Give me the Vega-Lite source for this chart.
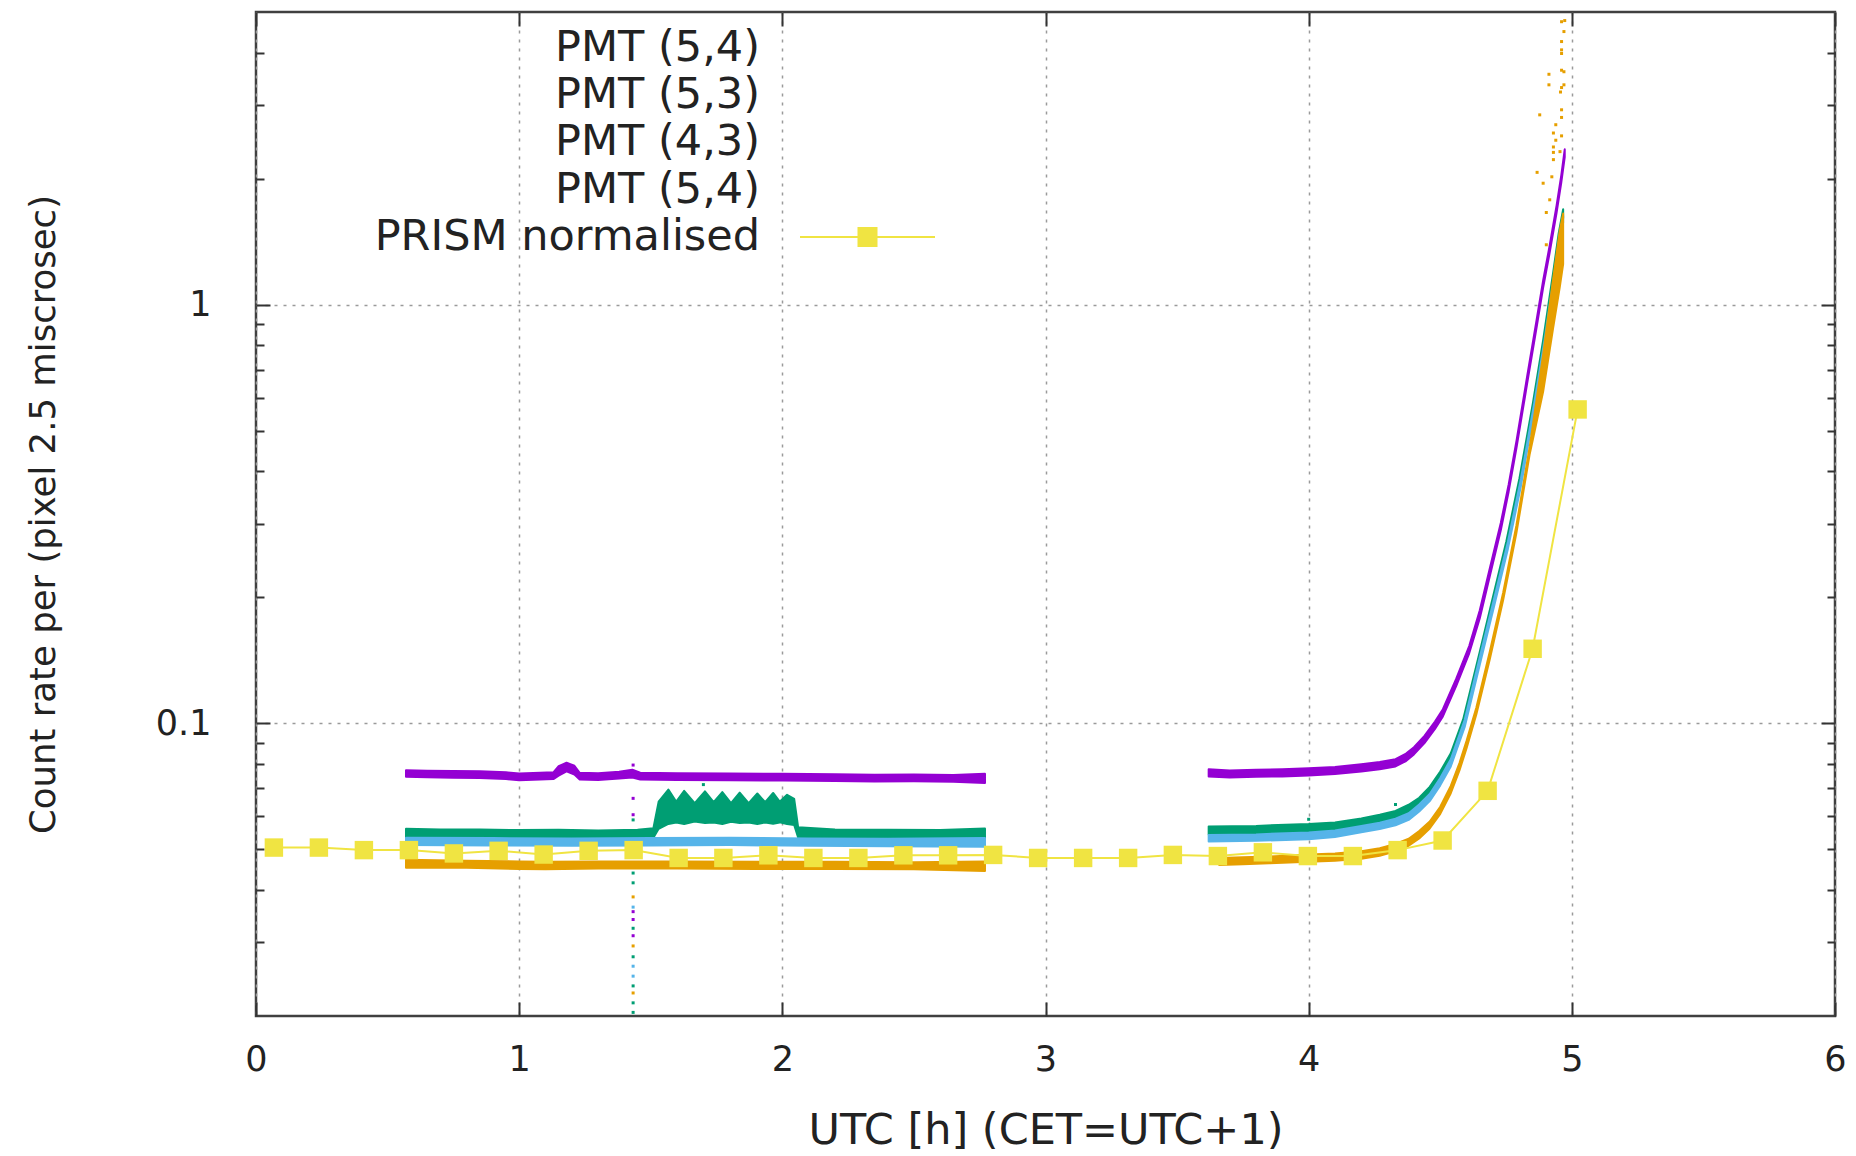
{
  "$schema": "https://vega.github.io/schema/vega-lite/v6.json",
  "width": 1579,
  "height": 1004,
  "autosize": {"type": "none"},
  "padding": {"left": 256, "top": 12, "right": 21, "bottom": 140},
  "background": "white",
  "config": {
    "view": {"stroke": "#404040", "strokeWidth": 2.5},
    "font": "DejaVu Sans",
    "axis": {
      "labelFont": "DejaVu Sans",
      "titleFont": "DejaVu Sans",
      "labelColor": "#222222",
      "titleColor": "#222222",
      "titleFontWeight": "normal",
      "tickColor": "#333333",
      "tickWidth": 2,
      "domain": false,
      "labelFlush": false,
      "labelOverlap": false,
      "labelBound": false,
      "gridColor": "#9a9a9a",
      "gridDash": [3, 6],
      "gridWidth": 1.5
    }
  },
  "datasets": {
    "pmt": [
      {"s": "p54a", "g": 1, "t": 0.57, "lo": 0.0745, "hi": 0.0773},
      {"s": "p54a", "g": 1, "t": 0.65, "lo": 0.0743, "hi": 0.0771},
      {"s": "p54a", "g": 1, "t": 0.75, "lo": 0.0741, "hi": 0.0769},
      {"s": "p54a", "g": 1, "t": 0.85, "lo": 0.0740, "hi": 0.0768},
      {"s": "p54a", "g": 1, "t": 0.95, "lo": 0.0736, "hi": 0.0764},
      {"s": "p54a", "g": 1, "t": 1.00, "lo": 0.0731, "hi": 0.0759},
      {"s": "p54a", "g": 1, "t": 1.08, "lo": 0.0734, "hi": 0.0762},
      {"s": "p54a", "g": 1, "t": 1.13, "lo": 0.0736, "hi": 0.0764},
      {"s": "p54a", "g": 1, "t": 1.15, "lo": 0.0750, "hi": 0.0790},
      {"s": "p54a", "g": 1, "t": 1.18, "lo": 0.0768, "hi": 0.0805},
      {"s": "p54a", "g": 1, "t": 1.21, "lo": 0.0755, "hi": 0.0792},
      {"s": "p54a", "g": 1, "t": 1.23, "lo": 0.0734, "hi": 0.0762},
      {"s": "p54a", "g": 1, "t": 1.30, "lo": 0.0732, "hi": 0.0760},
      {"s": "p54a", "g": 1, "t": 1.38, "lo": 0.0738, "hi": 0.0766},
      {"s": "p54a", "g": 1, "t": 1.43, "lo": 0.0742, "hi": 0.0775},
      {"s": "p54a", "g": 1, "t": 1.46, "lo": 0.0734, "hi": 0.0762},
      {"s": "p54a", "g": 1, "t": 1.60, "lo": 0.0732, "hi": 0.0760},
      {"s": "p54a", "g": 1, "t": 1.80, "lo": 0.0731, "hi": 0.0759},
      {"s": "p54a", "g": 1, "t": 2.00, "lo": 0.0730, "hi": 0.0758},
      {"s": "p54a", "g": 1, "t": 2.20, "lo": 0.0728, "hi": 0.0756},
      {"s": "p54a", "g": 1, "t": 2.35, "lo": 0.0726, "hi": 0.0754},
      {"s": "p54a", "g": 1, "t": 2.50, "lo": 0.0727, "hi": 0.0755},
      {"s": "p54a", "g": 1, "t": 2.65, "lo": 0.0725, "hi": 0.0753},
      {"s": "p54a", "g": 1, "t": 2.77, "lo": 0.0720, "hi": 0.0758},
      {"s": "p54a", "g": 2, "t": 3.62, "lo": 0.0747, "hi": 0.0777},
      {"s": "p54a", "g": 2, "t": 3.70, "lo": 0.0742, "hi": 0.0772},
      {"s": "p54a", "g": 2, "t": 3.80, "lo": 0.0745, "hi": 0.0775},
      {"s": "p54a", "g": 2, "t": 3.90, "lo": 0.0747, "hi": 0.0777},
      {"s": "p54a", "g": 2, "t": 4.00, "lo": 0.0751, "hi": 0.0781},
      {"s": "p54a", "g": 2, "t": 4.10, "lo": 0.0757, "hi": 0.0787},
      {"s": "p54a", "g": 2, "t": 4.20, "lo": 0.0767, "hi": 0.0799},
      {"s": "p54a", "g": 2, "t": 4.27, "lo": 0.0777, "hi": 0.0809},
      {"s": "p54a", "g": 2, "t": 4.33, "lo": 0.0789, "hi": 0.0821},
      {"s": "p54a", "g": 2, "t": 4.37, "lo": 0.0813, "hi": 0.0847},
      {"s": "p54a", "g": 2, "t": 4.40, "lo": 0.0843, "hi": 0.0877},
      {"s": "p54a", "g": 2, "t": 4.44, "lo": 0.0897, "hi": 0.0933},
      {"s": "p54a", "g": 2, "t": 4.48, "lo": 0.0970, "hi": 0.1010},
      {"s": "p54a", "g": 2, "t": 4.51, "lo": 0.1039, "hi": 0.1081},
      {"s": "p54a", "g": 2, "t": 4.56, "lo": 0.1225, "hi": 0.1275},
      {"s": "p54a", "g": 2, "t": 4.61, "lo": 0.147, "hi": 0.153},
      {"s": "p54a", "g": 2, "t": 4.65, "lo": 0.178, "hi": 0.186},
      {"s": "p54a", "g": 2, "t": 4.69, "lo": 0.227, "hi": 0.237},
      {"s": "p54a", "g": 2, "t": 4.73, "lo": 0.289, "hi": 0.301},
      {"s": "p54a", "g": 2, "t": 4.76, "lo": 0.358, "hi": 0.372},
      {"s": "p54a", "g": 2, "t": 4.79, "lo": 0.456, "hi": 0.474},
      {"s": "p54a", "g": 2, "t": 4.83, "lo": 0.647, "hi": 0.673},
      {"s": "p54a", "g": 2, "t": 4.866, "lo": 0.882, "hi": 0.918},
      {"s": "p54a", "g": 2, "t": 4.891, "lo": 1.098, "hi": 1.142},
      {"s": "p54a", "g": 2, "t": 4.916, "lo": 1.333, "hi": 1.387},
      {"s": "p54a", "g": 2, "t": 4.942, "lo": 1.656, "hi": 1.724},
      {"s": "p54a", "g": 2, "t": 4.960, "lo": 1.96, "hi": 2.04},
      {"s": "p54a", "g": 2, "t": 4.973, "lo": 2.25, "hi": 2.35},

      {"s": "p53", "g": 1, "t": 0.57, "lo": 0.0533, "hi": 0.0560},
      {"s": "p53", "g": 1, "t": 0.70, "lo": 0.0532, "hi": 0.0558},
      {"s": "p53", "g": 1, "t": 0.85, "lo": 0.0531, "hi": 0.0558},
      {"s": "p53", "g": 1, "t": 1.00, "lo": 0.0530, "hi": 0.0556},
      {"s": "p53", "g": 1, "t": 1.15, "lo": 0.0530, "hi": 0.0557},
      {"s": "p53", "g": 1, "t": 1.30, "lo": 0.0529, "hi": 0.0555},
      {"s": "p53", "g": 1, "t": 1.45, "lo": 0.0530, "hi": 0.0557},
      {"s": "p53", "g": 1, "t": 1.51, "lo": 0.0533, "hi": 0.0562},
      {"s": "p53", "g": 1, "t": 1.53, "lo": 0.0560, "hi": 0.0650},
      {"s": "p53", "g": 1, "t": 1.567, "lo": 0.0575, "hi": 0.0695},
      {"s": "p53", "g": 1, "t": 1.597, "lo": 0.0580, "hi": 0.0650},
      {"s": "p53", "g": 1, "t": 1.627, "lo": 0.0575, "hi": 0.0690},
      {"s": "p53", "g": 1, "t": 1.667, "lo": 0.0583, "hi": 0.0645},
      {"s": "p53", "g": 1, "t": 1.706, "lo": 0.0578, "hi": 0.0688},
      {"s": "p53", "g": 1, "t": 1.739, "lo": 0.0580, "hi": 0.0648},
      {"s": "p53", "g": 1, "t": 1.772, "lo": 0.0575, "hi": 0.0685},
      {"s": "p53", "g": 1, "t": 1.805, "lo": 0.0582, "hi": 0.0645},
      {"s": "p53", "g": 1, "t": 1.838, "lo": 0.0578, "hi": 0.0683},
      {"s": "p53", "g": 1, "t": 1.872, "lo": 0.0580, "hi": 0.0645},
      {"s": "p53", "g": 1, "t": 1.905, "lo": 0.0575, "hi": 0.0680},
      {"s": "p53", "g": 1, "t": 1.935, "lo": 0.0580, "hi": 0.0648},
      {"s": "p53", "g": 1, "t": 1.965, "lo": 0.0576, "hi": 0.0682},
      {"s": "p53", "g": 1, "t": 1.99, "lo": 0.0580, "hi": 0.0650},
      {"s": "p53", "g": 1, "t": 2.018, "lo": 0.0575, "hi": 0.0675},
      {"s": "p53", "g": 1, "t": 2.045, "lo": 0.0572, "hi": 0.0660},
      {"s": "p53", "g": 1, "t": 2.06, "lo": 0.0534, "hi": 0.0565},
      {"s": "p53", "g": 1, "t": 2.20, "lo": 0.0532, "hi": 0.0558},
      {"s": "p53", "g": 1, "t": 2.40, "lo": 0.0531, "hi": 0.0557},
      {"s": "p53", "g": 1, "t": 2.60, "lo": 0.0530, "hi": 0.0556},
      {"s": "p53", "g": 1, "t": 2.77, "lo": 0.0527, "hi": 0.0561},
      {"s": "p53", "g": 2, "t": 3.62, "lo": 0.0543, "hi": 0.0567},
      {"s": "p53", "g": 2, "t": 3.80, "lo": 0.0545, "hi": 0.0569},
      {"s": "p53", "g": 2, "t": 4.00, "lo": 0.0551, "hi": 0.0575},
      {"s": "p53", "g": 2, "t": 4.10, "lo": 0.0556, "hi": 0.0580},
      {"s": "p53", "g": 2, "t": 4.20, "lo": 0.0567, "hi": 0.0593},
      {"s": "p53", "g": 2, "t": 4.27, "lo": 0.0579, "hi": 0.0605},
      {"s": "p53", "g": 2, "t": 4.33, "lo": 0.0592, "hi": 0.0618},
      {"s": "p53", "g": 2, "t": 4.38, "lo": 0.0612, "hi": 0.0639},
      {"s": "p53", "g": 2, "t": 4.42, "lo": 0.0636, "hi": 0.0664},
      {"s": "p53", "g": 2, "t": 4.46, "lo": 0.0675, "hi": 0.0705},
      {"s": "p53", "g": 2, "t": 4.50, "lo": 0.0734, "hi": 0.0767},
      {"s": "p53", "g": 2, "t": 4.54, "lo": 0.0812, "hi": 0.0848},
      {"s": "p53", "g": 2, "t": 4.587, "lo": 0.0978, "hi": 0.1022},
      {"s": "p53", "g": 2, "t": 4.65, "lo": 0.142, "hi": 0.148},
      {"s": "p53", "g": 2, "t": 4.70, "lo": 0.192, "hi": 0.200},
      {"s": "p53", "g": 2, "t": 4.751, "lo": 0.260, "hi": 0.272},
      {"s": "p53", "g": 2, "t": 4.801, "lo": 0.369, "hi": 0.385},
      {"s": "p53", "g": 2, "t": 4.852, "lo": 0.558, "hi": 0.582},
      {"s": "p53", "g": 2, "t": 4.891, "lo": 0.789, "hi": 0.823},
      {"s": "p53", "g": 2, "t": 4.929, "lo": 1.142, "hi": 1.192},
      {"s": "p53", "g": 2, "t": 4.950, "lo": 1.42, "hi": 1.48},
      {"s": "p53", "g": 2, "t": 4.967, "lo": 1.61, "hi": 1.69},

      {"s": "p43", "g": 1, "t": 0.57, "lo": 0.0512, "hi": 0.0533},
      {"s": "p43", "g": 1, "t": 0.90, "lo": 0.0511, "hi": 0.0532},
      {"s": "p43", "g": 1, "t": 1.20, "lo": 0.0510, "hi": 0.0531},
      {"s": "p43", "g": 1, "t": 1.50, "lo": 0.0511, "hi": 0.0532},
      {"s": "p43", "g": 1, "t": 1.80, "lo": 0.0512, "hi": 0.0533},
      {"s": "p43", "g": 1, "t": 2.10, "lo": 0.0510, "hi": 0.0531},
      {"s": "p43", "g": 1, "t": 2.40, "lo": 0.0509, "hi": 0.0530},
      {"s": "p43", "g": 1, "t": 2.77, "lo": 0.0507, "hi": 0.0532},
      {"s": "p43", "g": 2, "t": 3.62, "lo": 0.0522, "hi": 0.0541},
      {"s": "p43", "g": 2, "t": 3.80, "lo": 0.0524, "hi": 0.0543},
      {"s": "p43", "g": 2, "t": 4.00, "lo": 0.0529, "hi": 0.0549},
      {"s": "p43", "g": 2, "t": 4.10, "lo": 0.0535, "hi": 0.0555},
      {"s": "p43", "g": 2, "t": 4.20, "lo": 0.0549, "hi": 0.0569},
      {"s": "p43", "g": 2, "t": 4.27, "lo": 0.0559, "hi": 0.0579},
      {"s": "p43", "g": 2, "t": 4.33, "lo": 0.0571, "hi": 0.0592},
      {"s": "p43", "g": 2, "t": 4.38, "lo": 0.0588, "hi": 0.0610},
      {"s": "p43", "g": 2, "t": 4.42, "lo": 0.0616, "hi": 0.0640},
      {"s": "p43", "g": 2, "t": 4.46, "lo": 0.0652, "hi": 0.0678},
      {"s": "p43", "g": 2, "t": 4.50, "lo": 0.0711, "hi": 0.0740},
      {"s": "p43", "g": 2, "t": 4.54, "lo": 0.0789, "hi": 0.0821},
      {"s": "p43", "g": 2, "t": 4.593, "lo": 0.098, "hi": 0.102},
      {"s": "p43", "g": 2, "t": 4.655, "lo": 0.142, "hi": 0.148},
      {"s": "p43", "g": 2, "t": 4.706, "lo": 0.192, "hi": 0.200},
      {"s": "p43", "g": 2, "t": 4.757, "lo": 0.261, "hi": 0.271},
      {"s": "p43", "g": 2, "t": 4.807, "lo": 0.370, "hi": 0.385},
      {"s": "p43", "g": 2, "t": 4.857, "lo": 0.559, "hi": 0.581},
      {"s": "p43", "g": 2, "t": 4.896, "lo": 0.790, "hi": 0.822},
      {"s": "p43", "g": 2, "t": 4.934, "lo": 1.144, "hi": 1.190},
      {"s": "p43", "g": 2, "t": 4.955, "lo": 1.42, "hi": 1.48},
      {"s": "p43", "g": 2, "t": 4.967, "lo": 1.57, "hi": 1.63},

      {"s": "p54b", "g": 1, "t": 0.57, "lo": 0.0452, "hi": 0.0472},
      {"s": "p54b", "g": 1, "t": 0.80, "lo": 0.0452, "hi": 0.0470},
      {"s": "p54b", "g": 1, "t": 1.00, "lo": 0.0449, "hi": 0.0468},
      {"s": "p54b", "g": 1, "t": 1.10, "lo": 0.0448, "hi": 0.0467},
      {"s": "p54b", "g": 1, "t": 1.30, "lo": 0.0450, "hi": 0.0468},
      {"s": "p54b", "g": 1, "t": 1.60, "lo": 0.0450, "hi": 0.0468},
      {"s": "p54b", "g": 1, "t": 1.90, "lo": 0.0449, "hi": 0.0467},
      {"s": "p54b", "g": 1, "t": 2.20, "lo": 0.0449, "hi": 0.0467},
      {"s": "p54b", "g": 1, "t": 2.50, "lo": 0.0448, "hi": 0.0466},
      {"s": "p54b", "g": 1, "t": 2.77, "lo": 0.0444, "hi": 0.0468},
      {"s": "p54b", "g": 2, "t": 3.66, "lo": 0.0459, "hi": 0.0477},
      {"s": "p54b", "g": 2, "t": 3.75, "lo": 0.0461, "hi": 0.0479},
      {"s": "p54b", "g": 2, "t": 3.85, "lo": 0.0463, "hi": 0.0481},
      {"s": "p54b", "g": 2, "t": 4.00, "lo": 0.0467, "hi": 0.0486},
      {"s": "p54b", "g": 2, "t": 4.10, "lo": 0.0470, "hi": 0.0489},
      {"s": "p54b", "g": 2, "t": 4.20, "lo": 0.0475, "hi": 0.0495},
      {"s": "p54b", "g": 2, "t": 4.27, "lo": 0.0483, "hi": 0.0503},
      {"s": "p54b", "g": 2, "t": 4.33, "lo": 0.0495, "hi": 0.0515},
      {"s": "p54b", "g": 2, "t": 4.38, "lo": 0.0510, "hi": 0.0530},
      {"s": "p54b", "g": 2, "t": 4.42, "lo": 0.0531, "hi": 0.0553},
      {"s": "p54b", "g": 2, "t": 4.46, "lo": 0.0561, "hi": 0.0583},
      {"s": "p54b", "g": 2, "t": 4.50, "lo": 0.0608, "hi": 0.0632},
      {"s": "p54b", "g": 2, "t": 4.54, "lo": 0.0681, "hi": 0.0709},
      {"s": "p54b", "g": 2, "t": 4.573, "lo": 0.0772, "hi": 0.0804},
      {"s": "p54b", "g": 2, "t": 4.60, "lo": 0.0872, "hi": 0.0908},
      {"s": "p54b", "g": 2, "t": 4.637, "lo": 0.105, "hi": 0.109},
      {"s": "p54b", "g": 2, "t": 4.688, "lo": 0.142, "hi": 0.148},
      {"s": "p54b", "g": 2, "t": 4.739, "lo": 0.197, "hi": 0.205},
      {"s": "p54b", "g": 2, "t": 4.789, "lo": 0.284, "hi": 0.296},
      {"s": "p54b", "g": 2, "t": 4.840, "lo": 0.440, "hi": 0.458},
      {"s": "p54b", "g": 2, "t": 4.891, "lo": 0.62, "hi": 0.76},
      {"s": "p54b", "g": 2, "t": 4.929, "lo": 0.88, "hi": 1.15},
      {"s": "p54b", "g": 2, "t": 4.954, "lo": 1.10, "hi": 1.50},
      {"s": "p54b", "g": 2, "t": 4.967, "lo": 1.25, "hi": 1.65}
    ],
    "dots": [
      {"s": "p54a", "t": 1.433, "v": 0.0795},
      {"s": "p54a", "t": 1.433, "v": 0.0662},
      {"s": "p54a", "t": 1.433, "v": 0.0605},
      {"s": "p54a", "t": 1.433, "v": 0.0355},
      {"s": "p54a", "t": 1.433, "v": 0.0340},
      {"s": "p54a", "t": 1.433, "v": 0.0311},
      {"s": "p53", "t": 1.433, "v": 0.0588},
      {"s": "p53", "t": 1.433, "v": 0.0439},
      {"s": "p53", "t": 1.433, "v": 0.0416},
      {"s": "p53", "t": 1.433, "v": 0.0324},
      {"s": "p53", "t": 1.433, "v": 0.0277},
      {"s": "p53", "t": 1.433, "v": 0.0236},
      {"s": "p53", "t": 1.433, "v": 0.0215},
      {"s": "p53", "t": 1.433, "v": 0.0204},
      {"s": "p53", "t": 1.70, "v": 0.0714},
      {"s": "p53", "t": 4.00, "v": 0.0590},
      {"s": "p53", "t": 4.33, "v": 0.0640},
      {"s": "p43", "t": 1.433, "v": 0.0364},
      {"s": "p43", "t": 1.433, "v": 0.0263},
      {"s": "p43", "t": 1.433, "v": 0.0249},
      {"s": "p54b", "t": 1.433, "v": 0.0385},
      {"s": "p54b", "t": 1.433, "v": 0.0294},
      {"s": "p54b", "t": 1.433, "v": 0.0227},
      {"s": "p54b", "t": 4.961, "v": 4.74},
      {"s": "p54b", "t": 4.973, "v": 4.77},
      {"s": "p54b", "t": 4.970, "v": 4.49},
      {"s": "p54b", "t": 4.961, "v": 4.25},
      {"s": "p54b", "t": 4.961, "v": 4.06},
      {"s": "p54b", "t": 4.961, "v": 3.98},
      {"s": "p54b", "t": 4.961, "v": 3.63},
      {"s": "p54b", "t": 4.970, "v": 3.60},
      {"s": "p54b", "t": 4.913, "v": 3.55},
      {"s": "p54b", "t": 4.913, "v": 3.35},
      {"s": "p54b", "t": 4.970, "v": 3.35},
      {"s": "p54b", "t": 4.961, "v": 3.30},
      {"s": "p54b", "t": 4.957, "v": 3.22},
      {"s": "p54b", "t": 4.878, "v": 2.84},
      {"s": "p54b", "t": 4.961, "v": 2.92},
      {"s": "p54b", "t": 4.961, "v": 2.80},
      {"s": "p54b", "t": 4.939, "v": 2.69},
      {"s": "p54b", "t": 4.930, "v": 2.57},
      {"s": "p54b", "t": 4.961, "v": 2.53},
      {"s": "p54b", "t": 4.939, "v": 2.47},
      {"s": "p54b", "t": 4.930, "v": 2.38},
      {"s": "p54b", "t": 4.930, "v": 2.31},
      {"s": "p54b", "t": 4.955, "v": 2.32},
      {"s": "p54b", "t": 4.930, "v": 2.22},
      {"s": "p54b", "t": 4.868, "v": 2.07},
      {"s": "p54b", "t": 4.891, "v": 1.95},
      {"s": "p54b", "t": 4.924, "v": 2.02},
      {"s": "p54b", "t": 4.916, "v": 1.78},
      {"s": "p54b", "t": 4.903, "v": 1.66},
      {"s": "p54b", "t": 4.903, "v": 1.39}
    ],
    "prism": [
      {"s": "prism", "t": 0.068, "v": 0.0505},
      {"s": "prism", "t": 0.239, "v": 0.0505},
      {"s": "prism", "t": 0.410, "v": 0.0498},
      {"s": "prism", "t": 0.581, "v": 0.0498},
      {"s": "prism", "t": 0.752, "v": 0.0489},
      {"s": "prism", "t": 0.922, "v": 0.0496},
      {"s": "prism", "t": 1.093, "v": 0.0486},
      {"s": "prism", "t": 1.264, "v": 0.0496},
      {"s": "prism", "t": 1.435, "v": 0.0498},
      {"s": "prism", "t": 1.606, "v": 0.0477},
      {"s": "prism", "t": 1.776, "v": 0.0477},
      {"s": "prism", "t": 1.947, "v": 0.0484},
      {"s": "prism", "t": 2.118, "v": 0.0477},
      {"s": "prism", "t": 2.289, "v": 0.0477},
      {"s": "prism", "t": 2.460, "v": 0.0484},
      {"s": "prism", "t": 2.630, "v": 0.0484},
      {"s": "prism", "t": 2.801, "v": 0.0485},
      {"s": "prism", "t": 2.972, "v": 0.0477},
      {"s": "prism", "t": 3.143, "v": 0.0477},
      {"s": "prism", "t": 3.314, "v": 0.0477},
      {"s": "prism", "t": 3.484, "v": 0.0485},
      {"s": "prism", "t": 3.655, "v": 0.0482},
      {"s": "prism", "t": 3.826, "v": 0.0492},
      {"s": "prism", "t": 3.997, "v": 0.0482},
      {"s": "prism", "t": 4.168, "v": 0.0482},
      {"s": "prism", "t": 4.338, "v": 0.0498},
      {"s": "prism", "t": 4.509, "v": 0.0525},
      {"s": "prism", "t": 4.680, "v": 0.0690},
      {"s": "prism", "t": 4.851, "v": 0.1507},
      {"s": "prism", "t": 5.022, "v": 0.562}
    ]
  },
  "layer": [
    {
      "data": {"name": "pmt"},
      "mark": {"type": "area", "clip": true, "strokeWidth": 2, "strokeJoin": "round"},
      "encoding": {
        "x": {
          "field": "t", "type": "quantitative",
          "scale": {"domain": [0, 6], "nice": false, "zero": false},
          "axis": {
            "orient": "bottom",
            "values": [0, 1, 2, 3, 4, 5, 6],
            "format": "d",
            "title": "UTC [h] (CET=UTC+1)",
            "titleFontSize": 43,
            "titlePadding": 32,
            "labelFontSize": 35,
            "labelPadding": 40,
            "tickSize": -14,
            "grid": true
          }
        },
        "y": {
          "field": "lo", "type": "quantitative",
          "scale": {"type": "log", "domain": [0.02, 5], "nice": false},
          "axis": {
            "orient": "left",
            "values": [0.03, 0.04, 0.05, 0.06, 0.07, 0.08, 0.09, 0.1, 0.2, 0.3, 0.4, 0.5, 0.6, 0.7, 0.8, 0.9, 1, 2, 3, 4],
            "labelExpr": "datum.value == 1 ? '1' : datum.value == 0.1 ? '0.1' : ''",
            "labelFontSize": 35,
            "labelPadding": 59,
            "tickSize": {"condition": {"test": "datum.value == 1 || datum.value == 0.1", "value": -14}, "value": -8},
            "grid": true,
            "gridOpacity": {"condition": {"test": "datum.value == 1 || datum.value == 0.1", "value": 1}, "value": 0},
            "title": "Count rate per (pixel 2.5 miscrosec)",
            "titleFontSize": 35.5,
            "titlePadding": 94
          }
        },
        "y2": {"field": "hi"},
        "color": {
          "field": "s", "type": "nominal",
          "scale": {"domain": ["p54a", "p53", "p43", "p54b", "prism"], "range": ["#9400d3", "#009e73", "#56b4e9", "#e69f00", "#f0e442"]}
        },
        "stroke": {
          "field": "s", "type": "nominal",
          "scale": {"domain": ["p54a", "p53", "p43", "p54b", "prism"], "range": ["#9400d3", "#009e73", "#56b4e9", "#e69f00", "#f0e442"]},
          "legend": null
        },
        "detail": {"field": "g", "type": "nominal"}
      }
    },
    {
      "data": {"name": "dots"},
      "mark": {"type": "point", "shape": "square", "filled": true, "size": 9, "opacity": 1, "clip": true},
      "encoding": {
        "x": {
          "field": "t", "type": "quantitative",
          "scale": {"domain": [0, 6], "nice": false, "zero": false},
          "axis": {"orient": "top", "values": [0, 1, 2, 3, 4, 5, 6], "labels": false, "title": null, "tickSize": -14, "grid": false}
        },
        "y": {
          "field": "v", "type": "quantitative",
          "scale": {"type": "log", "domain": [0.02, 5], "nice": false},
          "axis": {
            "orient": "right",
            "values": [0.03, 0.04, 0.05, 0.06, 0.07, 0.08, 0.09, 0.1, 0.2, 0.3, 0.4, 0.5, 0.6, 0.7, 0.8, 0.9, 1, 2, 3, 4],
            "labels": false, "title": null, "grid": false,
            "tickSize": {"condition": {"test": "datum.value == 1 || datum.value == 0.1", "value": -14}, "value": -8}
          }
        },
        "color": {"field": "s", "type": "nominal"}
      }
    },
    {
      "data": {"name": "prism"},
      "mark": {"type": "line", "color": "#f0e442", "strokeWidth": 2, "clip": true},
      "encoding": {
        "x": {"field": "t", "type": "quantitative", "scale": {"domain": [0, 6], "nice": false, "zero": false}, "axis": null},
        "y": {"field": "v", "type": "quantitative", "scale": {"type": "log", "domain": [0.02, 5], "nice": false}, "axis": null}
      }
    },
    {
      "data": {"name": "prism"},
      "mark": {"type": "point", "shape": "square", "filled": true, "size": 340, "opacity": 1, "clip": true},
      "encoding": {
        "x": {"field": "t", "type": "quantitative", "scale": {"domain": [0, 6], "nice": false, "zero": false}, "axis": null},
        "y": {"field": "v", "type": "quantitative", "scale": {"type": "log", "domain": [0.02, 5], "nice": false}, "axis": null},
        "color": {
          "field": "s", "type": "nominal",
          "legend": {
            "orient": "none",
            "legendX": 590,
            "legendY": 14,
            "title": null,
            "direction": "vertical",
            "padding": 0,
            "rowPadding": 3.4,
            "symbolType": "M-3.75,0H3.75M-0.5,-0.5H0.5V0.5H-0.5Z",
            "symbolSize": 1296,
            "symbolStrokeWidth": 2,
            "symbolOpacity": 1,
            "labelExpr": "datum.value == 'p54a' || datum.value == 'p54b' ? 'PMT (5,4)' : datum.value == 'p53' ? 'PMT (5,3)' : datum.value == 'p43' ? 'PMT (4,3)' : 'PRISM normalised'",
            "labelFont": "DejaVu Sans",
            "labelFontSize": 43,
            "labelColor": "#222222",
            "labelAlign": "right",
            "labelOffset": -129,
            "labelLimit": 1000,
            "encode": {
              "symbols": {
                "update": {
                  "opacity": {"signal": "datum.value === 'prism' ? 1 : 0"},
                  "fill": {"value": "#f0e442"},
                  "stroke": {"value": "#f0e442"},
                  "strokeWidth": {"value": 2}
                }
              }
            }
          }
        }
      }
    }
  ],
  "resolve": {"axis": {"x": "independent", "y": "independent"}}
}
